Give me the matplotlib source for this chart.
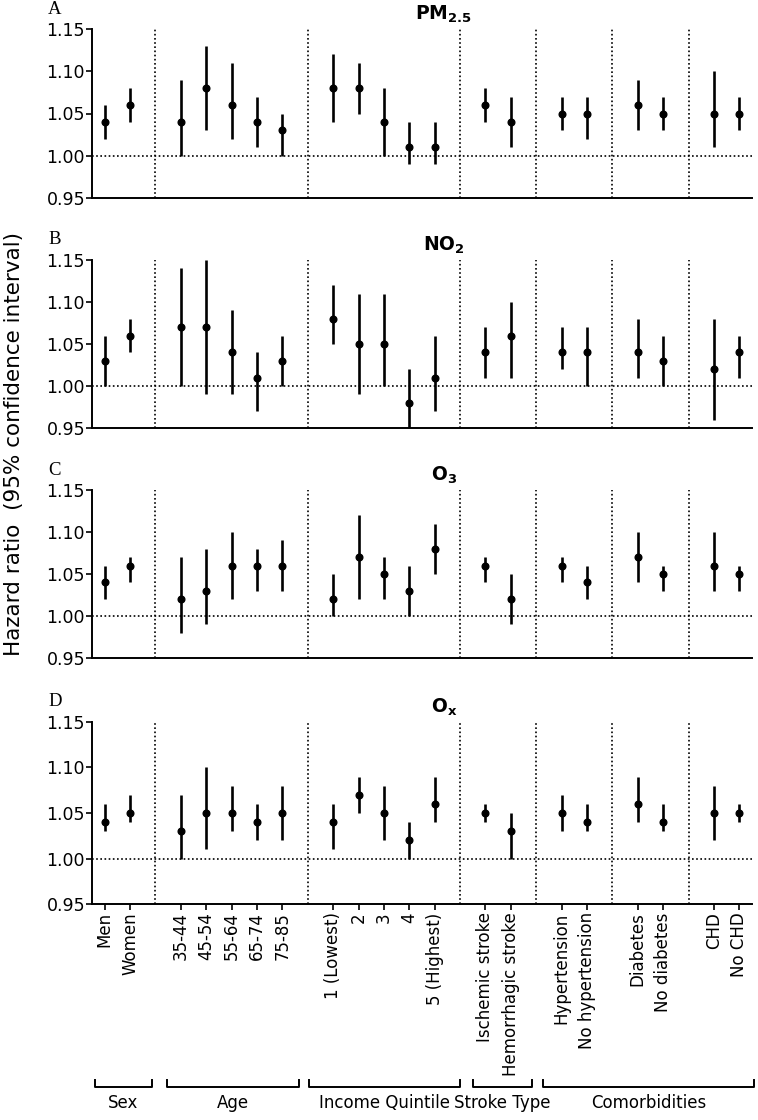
import matplotlib
matplotlib.use('Agg')
import matplotlib.pyplot as plt
from matplotlib.transforms import blended_transform_factory

plt.rcParams['font.family'] = ['DejaVu Sans']
plt.rcParams['mathtext.fontset'] = 'dejavusans'

# ---------------- data ----------------
categories = ["Men", "Women", "35-44", "45-54", "55-64", "65-74", "75-85",
              "1 (Lowest)", "2", "3", "4", "5 (Highest)",
              "Ischemic stroke", "Hemorrhagic stroke",
              "Hypertension", "No hypertension", "Diabetes", "No diabetes",
              "CHD", "No CHD"]
positions = [0, 1, 3, 4, 5, 6, 7, 9, 10, 11, 12, 13, 15, 16, 18, 19, 21, 22, 24, 25]
dividers = [2, 8, 14, 17, 20, 23]

groups = ["Sex", "Age", "Income Quintile", "Stroke Type", "Comorbidities"]
group_spans = [(-0.39, 1.85), (2.45, 7.65), (8.05, 14.0), (14.5, 16.84), (17.28, 25.56)]

panel_letters = ["A", "B", "C", "D"]
pollutants = [r"$\mathbf{PM_{2.5}}$", r"$\mathbf{NO_{2}}$", r"$\mathbf{O_{3}}$", r"$\mathbf{O_{x}}$"]

pm25_hr = [1.04, 1.06, 1.04, 1.08, 1.06, 1.04, 1.03, 1.08, 1.08, 1.04, 1.01, 1.01,
           1.06, 1.04, 1.05, 1.05, 1.06, 1.05, 1.05, 1.05]
pm25_lo = [1.02, 1.04, 1.00, 1.03, 1.02, 1.01, 1.00, 1.04, 1.05, 1.00, 0.99, 0.99,
           1.04, 1.01, 1.03, 1.02, 1.03, 1.03, 1.01, 1.03]
pm25_hi = [1.06, 1.08, 1.09, 1.13, 1.11, 1.07, 1.05, 1.12, 1.11, 1.08, 1.04, 1.04,
           1.08, 1.07, 1.07, 1.07, 1.09, 1.07, 1.10, 1.07]

no2_hr = [1.03, 1.06, 1.07, 1.07, 1.04, 1.01, 1.03, 1.08, 1.05, 1.05, 0.98, 1.01,
          1.04, 1.06, 1.04, 1.04, 1.04, 1.03, 1.02, 1.04]
no2_lo = [1.00, 1.04, 1.00, 0.99, 0.99, 0.97, 1.00, 1.05, 0.99, 1.00, 0.95, 0.97,
          1.01, 1.01, 1.02, 1.00, 1.01, 1.00, 0.96, 1.01]
no2_hi = [1.06, 1.08, 1.14, 1.15, 1.09, 1.04, 1.06, 1.12, 1.11, 1.11, 1.02, 1.06,
          1.07, 1.10, 1.07, 1.07, 1.08, 1.06, 1.08, 1.06]

o3_hr = [1.04, 1.06, 1.02, 1.03, 1.06, 1.06, 1.06, 1.02, 1.07, 1.05, 1.03, 1.08,
         1.06, 1.02, 1.06, 1.04, 1.07, 1.05, 1.06, 1.05]
o3_lo = [1.02, 1.04, 0.98, 0.99, 1.02, 1.03, 1.03, 1.00, 1.02, 1.02, 1.00, 1.05,
         1.04, 0.99, 1.04, 1.02, 1.04, 1.03, 1.03, 1.03]
o3_hi = [1.06, 1.07, 1.07, 1.08, 1.10, 1.08, 1.09, 1.05, 1.12, 1.07, 1.06, 1.11,
         1.07, 1.05, 1.07, 1.06, 1.10, 1.06, 1.10, 1.06]

ox_hr = [1.04, 1.05, 1.03, 1.05, 1.05, 1.04, 1.05, 1.04, 1.07, 1.05, 1.02, 1.06,
         1.05, 1.03, 1.05, 1.04, 1.06, 1.04, 1.05, 1.05]
ox_lo = [1.03, 1.04, 1.00, 1.01, 1.03, 1.02, 1.02, 1.01, 1.05, 1.02, 1.00, 1.04,
         1.04, 1.00, 1.03, 1.03, 1.04, 1.03, 1.02, 1.04]
ox_hi = [1.06, 1.07, 1.07, 1.10, 1.08, 1.06, 1.08, 1.06, 1.09, 1.08, 1.04, 1.09,
         1.06, 1.05, 1.07, 1.06, 1.09, 1.06, 1.08, 1.06]

yticks = [0.95, 1.00, 1.05, 1.10, 1.15]
ytick_labels = ["0.95", "1.00", "1.05", "1.10", "1.15"]

series = [(pm25_hr, pm25_lo, pm25_hi), (no2_hr, no2_lo, no2_hi),
          (o3_hr, o3_lo, o3_hi), (ox_hr, ox_lo, ox_hi)]

# ---------------- layout ----------------
W, H = 758, 1120
fig = plt.figure(figsize=(W / 100, H / 100), dpi=100)
# (top px, bottom px) for each panel
panel_px = [(29, 198), (260, 428), (490, 658), (722, 904)]
left_px, right_px = 92, 752

dot = (0, (1, 1.5))
axes = []
for i, ((t, b), (hr, lo, hi)) in enumerate(zip(panel_px, series)):
    ax = fig.add_axes([left_px / W, 1 - b / H, (right_px - left_px) / W, (b - t) / H])
    axes.append(ax)
    ax.set_xlim(-0.5, 25.5)
    ax.set_ylim(0.95, 1.15)
    ax.axhline(1.0, color='black', lw=1.2, ls=dot, zorder=1)
    for d in dividers:
        ax.axvline(d, color='black', lw=1.2, ls=dot, zorder=1)
    for x, h, l, u in zip(positions, hr, lo, hi):
        ax.plot([x, x], [l, u], color='black', lw=1.9, solid_capstyle='butt', zorder=3)
    ax.plot(positions, hr, 'o', color='black', ms=4.8, zorder=4)
    for s in ['top', 'right']:
        ax.spines[s].set_visible(False)
    ax.spines['left'].set_linewidth(1.4)
    ax.spines['bottom'].set_linewidth(1.4)
    ax.set_yticks(yticks)
    ax.set_yticklabels(ytick_labels)
    ax.tick_params(axis='y', length=4, width=1.2, pad=1, labelsize=12.5)
    if i < 3:
        ax.set_xticks([])
    else:
        ax.set_xticks(positions)
        ax.set_xticklabels(categories, rotation=90, va='top', ha='center')
        ax.tick_params(axis='x', length=4, width=1.2, pad=2, labelsize=12)
    # panel letter and title
    fig.text(48 / W, 1 - (t - 20) / H, panel_letters[i], family='Liberation Serif',
             fontsize=13.5, ha='left', va='center')
    ax.text(0.533, 1 + 9 / (b - t), pollutants[i], transform=ax.transAxes,
            fontsize=13.5, ha='center', va='baseline')

fig.text(14 / W, 1 - 444 / H, "Hazard ratio  (95% confidence interval)", rotation=90,
         fontsize=15.5, ha='center', va='center')

# group brackets
axd = axes[-1]
trans = blended_transform_factory(axd.transData, fig.transFigure)
yb = 1 - 1087 / H
ye = 1 - 1080 / H
for g, (x0, x1) in zip(groups, group_spans):
    axd.plot([x0, x0, x1, x1], [ye, yb, yb, ye], color='black', lw=1.4,
             transform=trans, clip_on=False)
    axd.text((x0 + x1) / 2, 1 - 1103 / H, g, transform=trans, fontsize=12,
             ha='center', va='center')

fig.savefig('out.png', dpi=100)
